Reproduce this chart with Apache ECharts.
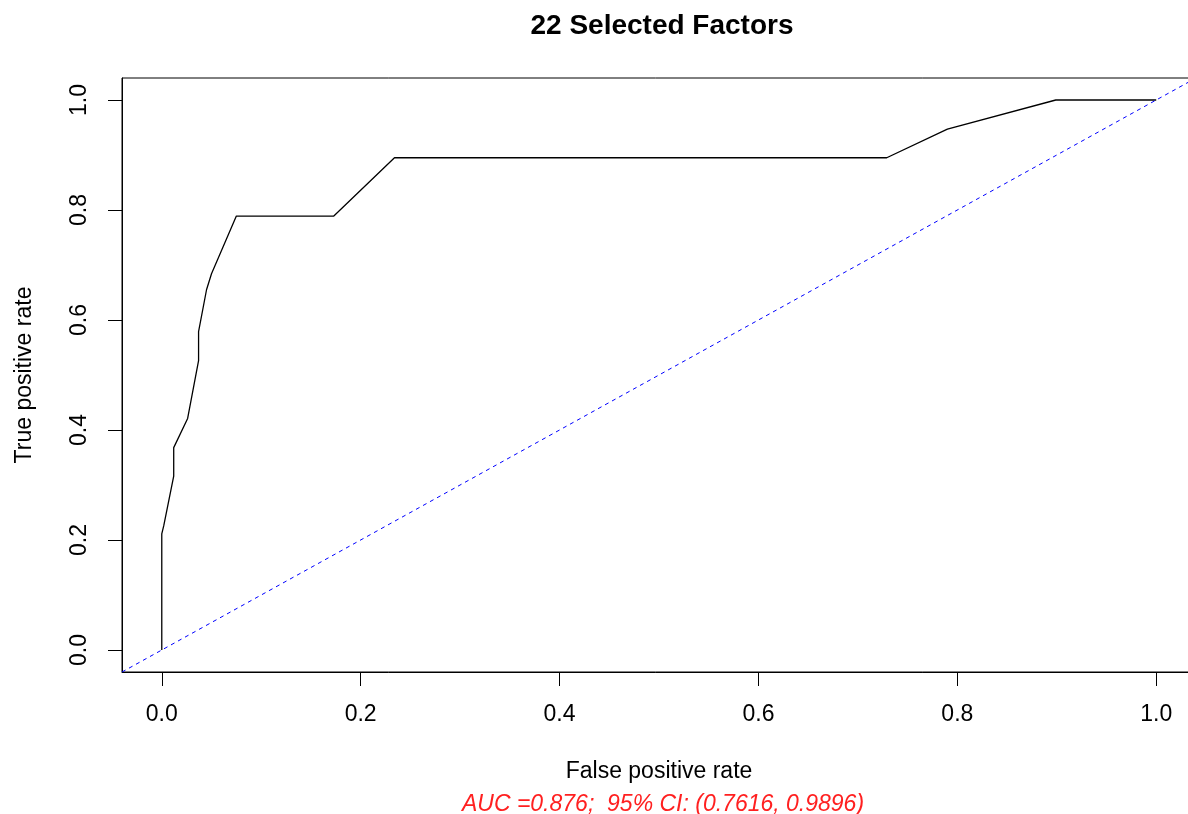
<!DOCTYPE html>
<html>
<head>
<meta charset="utf-8">
<title>22 Selected Factors</title>
<script src="https://cdn.jsdelivr.net/npm/echarts@6/dist/echarts.min.js"></script>
<style>
  html, body { margin: 0; padding: 0; background: #fff; }
  #chart { width: 1188px; height: 814px; }
</style>
</head>
<body>
<div id="chart"></div>
<script>
// ROC 曲线数据
const fpr = [0, 0, 0.002, 0.012, 0.012, 0.026, 0.037, 0.037, 0.045, 0.050, 0.075, 0.173, 0.234, 0.729, 0.790, 0.899, 1.0];
const tpr = [0, 0.211, 0.226, 0.316, 0.368, 0.421, 0.526, 0.579, 0.655, 0.684, 0.789, 0.789, 0.895, 0.895, 0.947, 1.0, 1.0];

// 参考线 y = x
const refX = [-0.04, 1.04];
const refY = [-0.04, 1.04];

// 刻度
const xTicks = [0, 0.2, 0.4, 0.6, 0.8, 1.0];
const yTicks = [0, 0.2, 0.4, 0.6, 0.8, 1.0];

const titleText = '22 Selected Factors';
const xName = 'False positive rate';
const yName = 'True positive rate';
const aucText = 'AUC =0.876;  95% CI: (0.7616, 0.9896)';

const FONT = '"Liberation Sans", Arial, sans-serif';

const chartDom = document.getElementById('chart');
const myChart = echarts.init(chartDom);

function axisCommon(ticks) {
  return {
    type: 'value',
    min: -0.04,
    max: 1.04,
    axisLine: { show: true, onZero: false, lineStyle: { color: '#000', width: 1 } },
    axisTick: {
      show: true,
      inside: false,
      length: 14,
      customValues: ticks,
      lineStyle: { color: '#000', width: 1 }
    },
    splitLine: { show: false },
    nameTextStyle: { fontFamily: FONT, fontSize: 23, color: '#000' }
  };
}

const xAxis = axisCommon(xTicks);
xAxis.axisLabel = {
  customValues: xTicks,
  formatter: v => v.toFixed(1),
  fontFamily: FONT, fontSize: 23, color: '#000', margin: 31
};
xAxis.name = xName;
xAxis.nameLocation = 'middle';
xAxis.nameGap = 88;

const yAxis = axisCommon(yTicks);
yAxis.axisLabel = {
  customValues: yTicks,
  formatter: v => v.toFixed(1),
  rotate: 90,
  fontFamily: FONT, fontSize: 23, color: '#000', margin: 31
};
yAxis.name = yName;
yAxis.nameLocation = 'middle';
yAxis.nameRotate = 90;
yAxis.nameGap = 86;

const option = {
  backgroundColor: '#fff',
  animation: false,
  title: [
    {
      text: titleText,
      left: 657,
      top: 7,
      textAlign: 'center',
      textStyle: { fontFamily: FONT, fontSize: 28, fontWeight: 'bold', color: '#000' }
    },
    {
      text: aucText,
      left: 658,
      top: 788,
      textAlign: 'center',
      textStyle: { fontFamily: FONT, fontSize: 23, fontStyle: 'italic', fontWeight: 'normal', color: '#ff2020' }
    }
  ],
  grid: {
    left: 122,
    top: 78,
    right: -8,
    bottom: 142,
    show: true,
    borderColor: '#000',
    borderWidth: 1,
    containLabel: false,
    outerBoundsMode: 'none'
  },
  xAxis: xAxis,
  yAxis: yAxis,
  series: [
    {
      type: 'line',
      data: fpr.map((x, i) => [x, tpr[i]]),
      showSymbol: false,
      symbol: 'none',
      lineStyle: { color: '#000', width: 1.3 },
      clip: true
    },
    {
      type: 'line',
      data: refX.map((x, i) => [x, refY[i]]),
      showSymbol: false,
      symbol: 'none',
      lineStyle: { color: '#0000ff', width: 1, type: [4, 4] },
      clip: true
    }
  ]
};

myChart.setOption(option);

window.addEventListener('resize', function() {
  myChart.resize();
});
</script>
</body>
</html>
